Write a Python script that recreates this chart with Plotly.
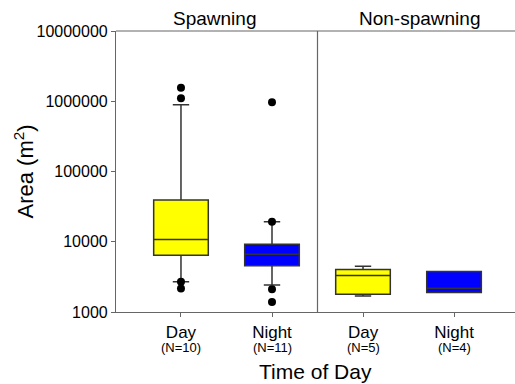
import plotly.graph_objects as go

# ---- data ----
categories = ["Day", "Night", "Day", "Night"]
n_labels = ["(N=10)", "(N=11)", "(N=5)", "(N=4)"]
groups = ["Spawning", "Non-spawning"]
colors = ["#FFFF00", "#0000FF", "#FFFF00", "#0000FF"]

q1 = [6440, 4540, 1790, 1895]
median = [10800, 6660, 3310, 2180]
q3 = [39200, 9250, 4030, 3770]
lowerfence = [2690, 2430, 1690, 1895]
upperfence = [891000, 19200, 4490, 3770]

outliers_day_spawning = [1555000, 1099000, 2690, 2160]
outliers_night_spawning = [965000, 19200, 2110, 1390]

ytick_vals = [1000, 10000, 100000, 1000000, 10000000]
ytick_text = ["1000", "10000", "100000", "1000000", "10000000"]

xpos = list(range(len(categories)))

fig = go.Figure()

for i in xpos:
    fig.add_trace(go.Box(
        x=[xpos[i]],
        q1=[q1[i]], median=[median[i]], q3=[q3[i]],
        lowerfence=[lowerfence[i]], upperfence=[upperfence[i]],
        fillcolor=colors[i],
        line=dict(color="#333333", width=1.5),
        width=0.6,
        whiskerwidth=0.3,
        boxpoints=False,
        showlegend=False,
        hoverinfo="skip",
    ))

for xi, vals in [(0, outliers_day_spawning), (1, outliers_night_spawning)]:
    fig.add_trace(go.Scatter(
        x=[xpos[xi]] * len(vals), y=vals, mode="markers",
        marker=dict(color="black", size=8),
        showlegend=False, hoverinfo="skip",
    ))

axis_color = "#666666"

fig.update_layout(
    width=515, height=384,
    margin=dict(l=116, r=0, t=31, b=72),
    plot_bgcolor="white", paper_bgcolor="white",
    font=dict(family="Liberation Sans, Arial, sans-serif", color="black"),
    xaxis=dict(
        range=[-0.714, 3.67],
        tickmode="array", tickvals=xpos, ticktext=categories,
        tickfont=dict(size=17),
        ticks="outside", ticklen=4, tickcolor=axis_color,
        showline=True, linecolor=axis_color, linewidth=1.2, mirror=False,
        showgrid=False, zeroline=False,
    ),
    yaxis=dict(
        type="log", range=[3, 7],
        tickmode="array", tickvals=ytick_vals, ticktext=ytick_text,
        tickfont=dict(size=16),
        ticks="outside", ticklen=4, tickcolor=axis_color,
        showline=True, linecolor=axis_color, linewidth=1.2, mirror=False,
        showgrid=False, zeroline=False,
    ),
    shapes=[
        dict(type="line", xref="x", yref="paper", x0=1.5, x1=1.5, y0=0, y1=1,
             line=dict(color=axis_color, width=1.2)),
        dict(type="line", xref="paper", yref="paper", x0=0, x1=1, y0=1, y1=1,
             line=dict(color=axis_color, width=1.2)),
    ],
)

# group titles
fig.add_annotation(x=0.363, y=1, xref="x", yref="paper", yanchor="bottom",
                   text=groups[0], showarrow=False, font=dict(size=19))
fig.add_annotation(x=2.626, y=1, xref="x", yref="paper", yanchor="bottom",
                   text=groups[1], showarrow=False, font=dict(size=19))

# N labels
for i in xpos:
    fig.add_annotation(x=xpos[i], y=-0.1246, xref="x", yref="paper", yanchor="middle",
                       text=n_labels[i], showarrow=False, font=dict(size=13))

# axis titles
fig.add_annotation(x=0.5, y=-0.2135, xref="paper", yref="paper", yanchor="middle",
                   text="Time of Day", showarrow=False, font=dict(size=21))
fig.add_annotation(x=-0.233, y=0.5, xref="paper", yref="paper", xanchor="center",
                   yanchor="middle", textangle=-90,
                   text="Area (m<sup>2</sup>)", showarrow=False, font=dict(size=22))

fig.write_html("out.html")
